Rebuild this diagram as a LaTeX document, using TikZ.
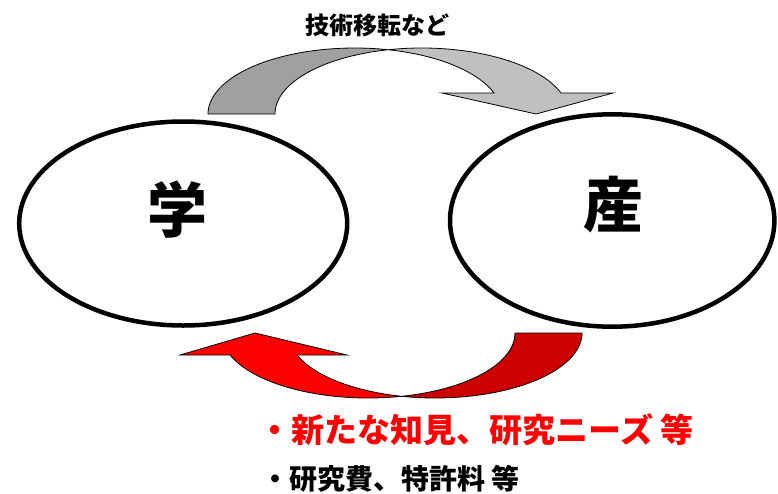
\documentclass[tikz,border=0pt]{standalone}
\usepackage{fontspec}
\newfontfamily\jp{Noto Sans CJK JP}
\definecolor{darkgray}{HTML}{A0A0A0}
\definecolor{lightgray}{HTML}{C0C0C0}
\definecolor{brightred}{HTML}{FF0000}
\definecolor{darkred}{HTML}{CC0000}
\begin{document}
\begin{tikzpicture}[x=1pt,y=-1pt,
  circ/.style={draw=black,line width=4.5pt},
  shapeline/.style={draw=black,line width=0.8pt,line join=miter},
  bigchar/.style={inner sep=0pt,anchor=base,font=\jp\bfseries\fontsize{60}{66}\selectfont},
  lbl/.style={inner sep=0pt,anchor=base west}]
\useasboundingbox (0,0) rectangle (778,493);
% top curved arrow (gray)
\filldraw[shapeline,fill=darkgray]
  plot[domain=180:76.8,samples=50,variable=\t] ({354.8+146.8*cos(\t)},{114-66*sin(\t)})
  -- plot[domain=103.2:180,samples=50,variable=\t] ({421.8+146.8*cos(\t)},{114-66*sin(\t)})
  -- cycle;
\filldraw[shapeline,fill=lightgray]
  plot[domain=103.2:18.5,samples=50,variable=\t] ({421.8+146.8*cos(\t)},{114-66*sin(\t)})
  -- (613,93) -- (536,114) -- (442,93)
  -- plot[domain=18.5:76.8,samples=50,variable=\t] ({354.8+146.8*cos(\t)},{114-66*sin(\t)})
  -- cycle;
% bottom curved arrow (red)
\filldraw[shapeline,fill=darkred]
  plot[domain=0:103.2,samples=50,variable=\t] ({435.2+146.8*cos(\t)},{333+65*sin(\t)})
  -- plot[domain=76.8:0,samples=50,variable=\t] ({368.2+146.8*cos(\t)},{333+65*sin(\t)})
  -- cycle;
\filldraw[shapeline,fill=brightred]
  plot[domain=76.8:160.2,samples=50,variable=\t] ({368.2+146.8*cos(\t)},{333+65*sin(\t)})
  -- (180,355) -- (255,333) -- (347,355)
  -- plot[domain=160.2:103.2,samples=50,variable=\t] ({435.2+146.8*cos(\t)},{333+65*sin(\t)})
  -- cycle;
% ellipses
\draw[circ] (183.2,223.5) ellipse [x radius=164, y radius=102];
\draw[circ] (612.2,220.5) ellipse [x radius=162.2, y radius=106.2];
% labels
\node[bigchar] (gaku) at (177,232) {学};
\node[bigchar] (san) at (613,227) {産};
\node[inner sep=0pt,anchor=base,font=\jp\bfseries\fontsize{24}{28}\selectfont] (title) at (377.5,34) {技術移転など};
\node[lbl,text=brightred,font=\jp\bfseries\fontsize{33}{38}\selectfont] (merit) at (258.5,442.5) {・新たな知見、研究ニーズ 等};
\node[lbl,text=black,font=\jp\bfseries\fontsize{28}{32}\selectfont] (funds) at (261,489.5) {・研究費、特許料 等};
\end{tikzpicture}
\end{document}
